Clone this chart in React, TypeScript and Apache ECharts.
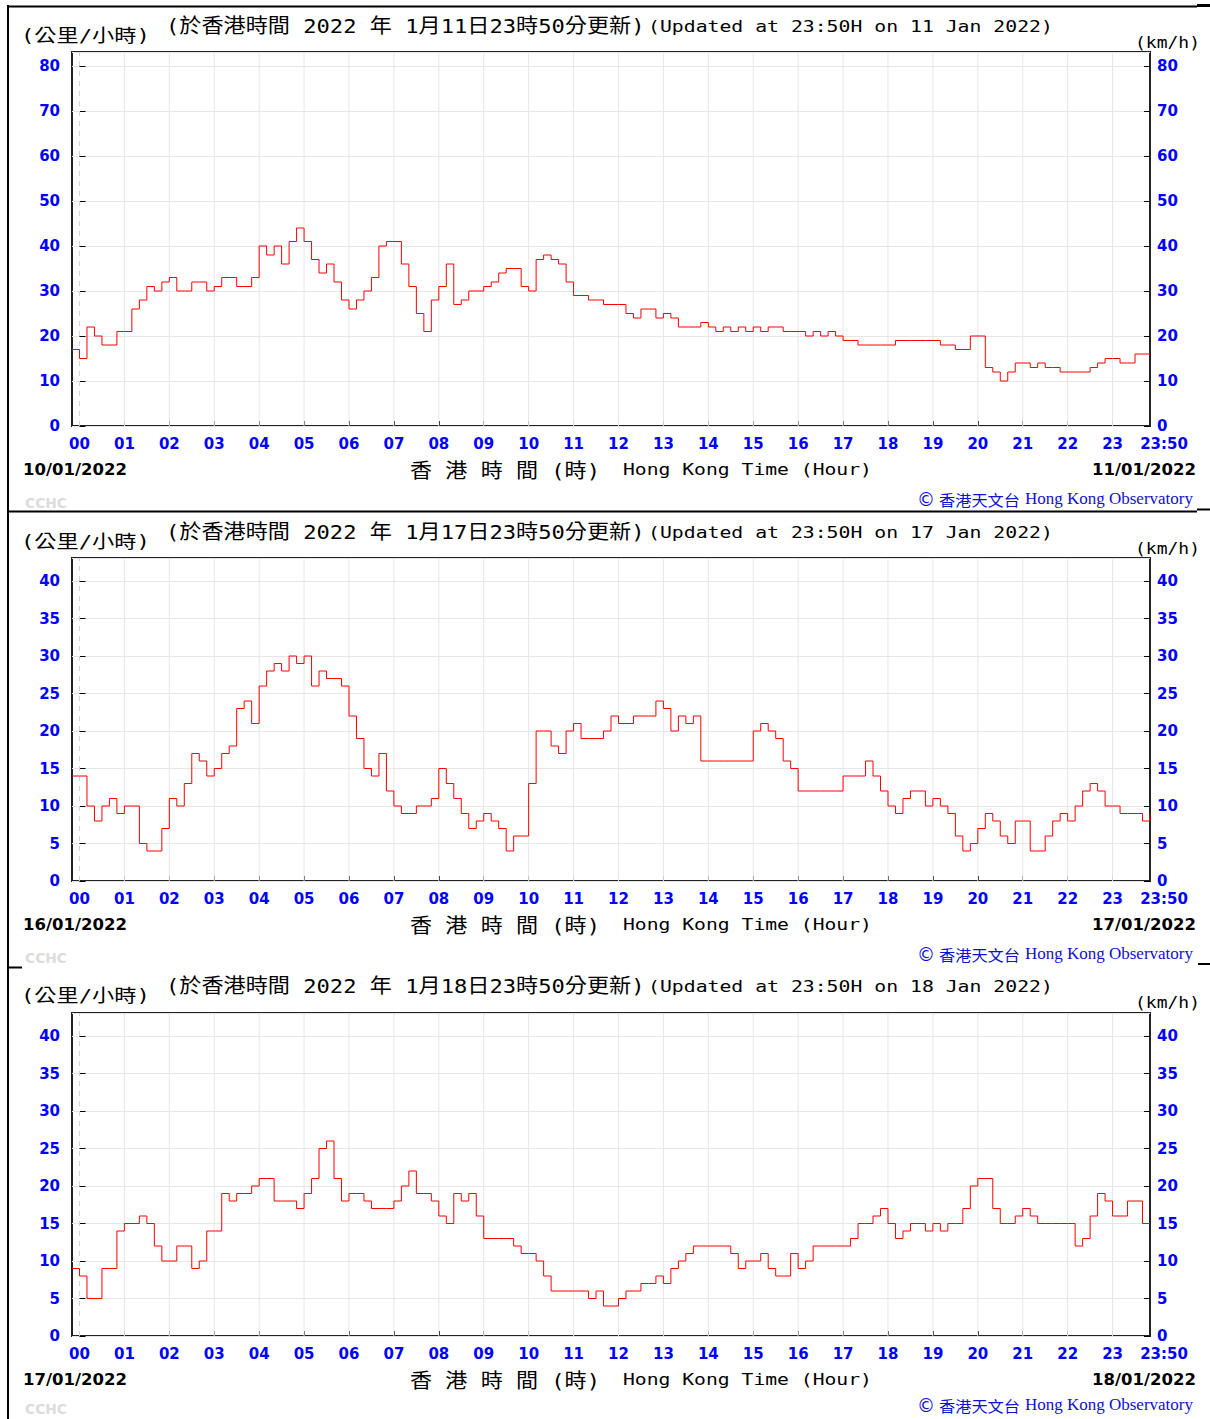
import { useEffect, useRef } from 'react';
import * as echarts from 'echarts';

// ---- axis ticks / labels ----
const HOUR_LABELS = ['00', '01', '02', '03', '04', '05', '06', '07', '08', '09', '10', '11', '12', '13', '14', '15', '16', '17', '18', '19', '20', '21', '22', '23'];
const HOUR_MINUTES = [0, 60, 120, 180, 240, 300, 360, 420, 480, 540, 600, 660, 720, 780, 840, 900, 960, 1020, 1080, 1140, 1200, 1260, 1320, 1380];
const END_LABEL = '23:50';
const START_MINUTE = -10; // 23:50 of the previous day
const END_MINUTE = 1430;
const SAMPLE_STEP_MIN = 10;
const Y_TICKS_80 = [0, 10, 20, 30, 40, 50, 60, 70, 80];
const Y_TICKS_40 = [0, 5, 10, 15, 20, 25, 30, 35, 40];

// ---- wind speed (km/h), one value per 10 minutes from 23:50 (previous day) to 23:50 ----
const WIND_2022_01_11 = [
  17,
  15, 22, 20, 18, 18, 21, 21, 26, 28, 31,
  30, 32, 33, 30, 30, 32, 32, 30, 31, 33,
  33, 31, 31, 33, 40, 38, 40, 36, 41, 44,
  41, 37, 34, 36, 32, 28, 26, 28, 30, 33,
  40, 41, 41, 36, 31, 25, 21, 28, 31, 36,
  27, 28, 30, 30, 31, 32, 34, 35, 35, 31,
  30, 37, 38, 37, 36, 32, 29, 29, 28, 28,
  27, 27, 27, 25, 24, 26, 26, 24, 25, 24,
  22, 22, 22, 23, 22, 21, 22, 21, 22, 21,
  22, 21, 22, 22, 21, 21, 21, 20, 21, 20,
  21, 20, 19, 19, 18, 18, 18, 18, 18, 19,
  19, 19, 19, 19, 19, 18, 18, 17, 17, 20,
  20, 13, 12, 10, 12, 14, 14, 13, 14, 13,
  13, 12, 12, 12, 12, 13, 14, 15, 15, 14,
  14, 16, 16, 16,
];
const WIND_2022_01_17 = [
  14,
  14, 10, 8, 10, 11, 9, 10, 10, 5, 4,
  4, 7, 11, 10, 13, 17, 16, 14, 15, 17,
  18, 23, 24, 21, 26, 28, 29, 28, 30, 29,
  30, 26, 28, 27, 27, 26, 22, 19, 15, 14,
  17, 12, 10, 9, 9, 10, 10, 11, 15, 13,
  11, 9, 7, 8, 9, 8, 7, 4, 6, 6,
  13, 20, 20, 18, 17, 20, 21, 19, 19, 19,
  20, 22, 21, 21, 22, 22, 22, 24, 23, 20,
  22, 21, 22, 16, 16, 16, 16, 16, 16, 16,
  20, 21, 20, 19, 16, 15, 12, 12, 12, 12,
  12, 12, 14, 14, 14, 16, 14, 12, 10, 9,
  11, 12, 12, 10, 11, 10, 9, 6, 4, 5,
  7, 9, 8, 6, 5, 8, 8, 4, 4, 6,
  8, 9, 8, 10, 12, 13, 12, 10, 10, 9,
  9, 9, 8, 9,
];
const WIND_2022_01_18 = [
  9,
  8, 5, 5, 9, 9, 14, 15, 15, 16, 15,
  12, 10, 10, 12, 12, 9, 10, 14, 14, 19,
  18, 19, 19, 20, 21, 21, 18, 18, 18, 17,
  19, 21, 25, 26, 21, 18, 19, 19, 18, 17,
  17, 17, 18, 20, 22, 19, 19, 18, 16, 15,
  19, 18, 19, 16, 13, 13, 13, 13, 12, 11,
  11, 10, 8, 6, 6, 6, 6, 6, 5, 6,
  4, 4, 5, 6, 6, 7, 7, 8, 7, 9,
  10, 11, 12, 12, 12, 12, 12, 11, 9, 10,
  10, 11, 9, 8, 8, 11, 9, 10, 12, 12,
  12, 12, 12, 13, 15, 15, 16, 17, 15, 13,
  14, 15, 15, 14, 15, 14, 15, 15, 17, 20,
  21, 21, 17, 15, 15, 16, 17, 16, 15, 15,
  15, 15, 15, 12, 13, 16, 19, 18, 16, 16,
  18, 18, 15, 15,
];

// ---- texts ----
const TITLES_ZH = ['(於香港時間 2022 年 1月11日23時50分更新)', '(於香港時間 2022 年 1月17日23時50分更新)', '(於香港時間 2022 年 1月18日23時50分更新)'];
const TITLES_EN = ['(Updated at 23:50H on 11 Jan 2022)', '(Updated at 23:50H on 17 Jan 2022)', '(Updated at 23:50H on 18 Jan 2022)'];
const DATES_START = ['10/01/2022', '16/01/2022', '17/01/2022'];
const DATES_END = ['11/01/2022', '17/01/2022', '18/01/2022'];
const UNIT_ZH = '(公里/小時)';
const UNIT_EN = '(km/h)';
const AXIS_NAME_ZH = '香 港 時 間 (時)';
const AXIS_NAME_EN = 'Hong Kong Time (Hour)';
const WATERMARK = 'CCHC';
const HKO_ZH = '香港天文台';
const HKO_EN = 'Hong Kong Observatory';

const BLUE = '#0000ff';
const HKO_BLUE = '#1010d0';
const MONO = '"DejaVu Sans Mono", "Noto Sans CJK TC"';

const measureCanvas = typeof document !== 'undefined' ? document.createElement('canvas').getContext('2d') : null;
function measure(text: string, font: string): number {
  if (!measureCanvas) return 1;
  measureCanvas.font = font;
  return measureCanvas.measureText(text).width || 1;
}

function txt(text: string, x: number, y: number, font: string, fill: string, width?: number, align: string = 'left') {
  const sx = width ? width / measure(text, font) : 1;
  return {
    type: 'text',
    x,
    y,
    scaleX: sx,
    silent: true,
    z: 10,
    style: { text, font, fill, textAlign: align, textVerticalAlign: 'middle', align, verticalAlign: 'middle' },
  };
}

function hline(x1: number, x2: number, y: number, w: number) {
  return { type: 'line', silent: true, z: 10, shape: { x1, y1: y, x2, y2: y }, style: { stroke: '#000', lineWidth: w } };
}

export default function App() {
  const ref = useRef<HTMLDivElement>(null);

  useEffect(() => {
    if (!ref.current) return;
    const chart = echarts.init(ref.current, undefined, { renderer: 'svg' });

    const panels = [
      { data: WIND_2022_01_11, top: 52, height: 374, yMax: 374 / 4.5, yInt: 10, yTicks: Y_TICKS_80, dyT: 0, dyB: 0, dyF: 0 },
      { data: WIND_2022_01_17, top: 558, height: 323, yMax: 323 / 7.5, yInt: 5, yTicks: Y_TICKS_40, dyT: 506, dyB: 455, dyF: 455 },
      { data: WIND_2022_01_18, top: 1013, height: 323, yMax: 323 / 7.5, yInt: 5, yTicks: Y_TICKS_40, dyT: 960, dyB: 910, dyF: 906 },
    ];

    const labelMinutes = [...HOUR_MINUTES, END_MINUTE];
    const xFormatter = (v: number) => {
      if (Math.abs(v - END_MINUTE) < 0.5) return '{end|' + END_LABEL + '}';
      const i = HOUR_MINUTES.indexOf(Math.round(v));
      return i >= 0 ? HOUR_LABELS[i] : '';
    };
    const labelStyle = { color: BLUE, fontWeight: 'bold', fontSize: 15, fontFamily: '"DejaVu Sans"' };

    const grid: any[] = [];
    const xAxis: any[] = [];
    const yAxis: any[] = [];
    const series: any[] = [];
    const graphic: any[] = [];

    panels.forEach((p, i) => {
      grid.push({ left: 72, top: p.top, width: 1078, height: p.height, show: true, borderColor: '#222', borderWidth: 2, backgroundColor: 'transparent' });
      xAxis.push({
        gridIndex: i,
        type: 'value',
        min: START_MINUTE,
        max: END_MINUTE,
        axisLine: { show: false },
        axisTick: { show: true, inside: true, length: 5, customValues: HOUR_MINUTES, lineStyle: { color: '#000', width: 1 } },
        axisLabel: {
          ...labelStyle,
          margin: 10,
          customValues: labelMinutes,
          formatter: xFormatter,
          rich: { end: { ...labelStyle, padding: [0, 0, 0, 28] } },
        },
        splitLine: { show: false },
      });
      const yFmt = (v: number) => (p.yTicks.indexOf(Math.round(v * 1000) / 1000) >= 0 ? String(v) : '');
      const yBase = {
        gridIndex: i,
        type: 'value',
        min: 0,
        max: p.yMax,
        interval: p.yInt,
        axisLine: { show: false },
        axisTick: { show: true, inside: true, length: 6, lineStyle: { color: '#000', width: 1 } },
      };
      yAxis.push({
        ...yBase,
        position: 'left',
        axisLabel: { ...labelStyle, margin: 12, formatter: yFmt, showMaxLabel: false },
        splitLine: { show: true, lineStyle: { color: '#e6e6e6', width: 1 } },
      });
      yAxis.push({
        ...yBase,
        position: 'right',
        axisLabel: { ...labelStyle, margin: 7, formatter: yFmt, showMaxLabel: false },
        splitLine: { show: false },
      });
      const yMax = p.yMax;
      series.push({
        type: 'custom',
        xAxisIndex: i,
        yAxisIndex: 2 * i,
        z: 1,
        silent: true,
        encode: { x: 0, y: 1 },
        data: HOUR_MINUTES.map((m) => [m, 0]),
        renderItem: (_params: any, api: any) => {
          const x = api.value(0);
          const a = api.coord([x, 0]);
          const b = api.coord([x, yMax]);
          return {
            type: 'line',
            shape: { x1: a[0], y1: a[1], x2: b[0], y2: b[1] },
            style: x === 0 ? { stroke: '#d4d4d4', lineWidth: 1, lineDash: [5, 5] } : { stroke: '#e6e6e6', lineWidth: 1 },
          };
        },
      });
      series.push({
        type: 'line',
        xAxisIndex: i,
        yAxisIndex: 2 * i,
        z: 3,
        step: 'end',
        symbol: 'none',
        silent: true,
        lineStyle: { color: '#ff0000', width: 1 },
        data: p.data.map((v, k) => [START_MINUTE + k * SAMPLE_STEP_MIN, v]),
      });

      // texts
      graphic.push(txt(UNIT_ZH, 21, 35.5 + p.dyT, '18px ' + MONO, '#000', 129));
      graphic.push(txt(TITLES_ZH[i], 166, 26 + p.dyT, '20px ' + MONO, '#000', 479));
      graphic.push(txt(TITLES_EN[i], 648, 26 + p.dyT, '16px "DejaVu Sans Mono"', '#000', 405));
      graphic.push(txt(UNIT_EN, 1200, 42 + p.dyT, '16px "DejaVu Sans Mono"', '#000', 65, 'right'));
      graphic.push(txt(DATES_START[i], 23, 469.5 + p.dyB, 'bold 16px "DejaVu Sans"', '#000', 104));
      graphic.push(txt(DATES_END[i], 1196, 469.5 + p.dyB, 'bold 16px "DejaVu Sans"', '#000', 104, 'right'));
      graphic.push(txt(AXIS_NAME_ZH, 410, 471 + p.dyB, '20px ' + MONO, '#000', 190));
      graphic.push(txt(AXIS_NAME_EN, 623, 469.5 + p.dyB, '16px "DejaVu Sans Mono"', '#000', 249));
      graphic.push(txt(WATERMARK, 25, 503 + p.dyF, 'bold 14px "DejaVu Sans"', '#dcdcdc', 42));
      graphic.push(txt('©', 917, 499 + p.dyF, '19px "DejaVu Sans"', HKO_BLUE, 18));
      graphic.push(txt(HKO_ZH, 939, 499 + p.dyF, '15px "Noto Sans CJK TC"', HKO_BLUE, 81));
      graphic.push(txt(HKO_EN, 1025, 499 + p.dyF, '16px "Liberation Serif"', HKO_BLUE, 168));
    });

    // frame / separators
    graphic.push({ type: 'line', silent: true, z: 10, shape: { x1: 8, y1: 5, x2: 8, y2: 1419 }, style: { stroke: '#000', lineWidth: 2 } });
    graphic.push(hline(7, 1197, 6.5, 2));
    graphic.push(hline(1197, 1210, 5.5, 3));
    graphic.push(hline(7, 1197, 511.5, 2));
    graphic.push(hline(1197, 1210, 509.5, 2));
    graphic.push(hline(7, 22, 967.5, 2));
    graphic.push(hline(1198, 1210, 964, 2));

    chart.setOption({
      animation: false,
      backgroundColor: '#fff',
      grid,
      xAxis,
      yAxis,
      series,
      graphic: { elements: graphic },
    });

    return () => chart.dispose();
  }, []);

  return <div ref={ref} style={{ position: 'absolute', left: 0, top: 0, width: 1210, height: 1419 }} />;
}
